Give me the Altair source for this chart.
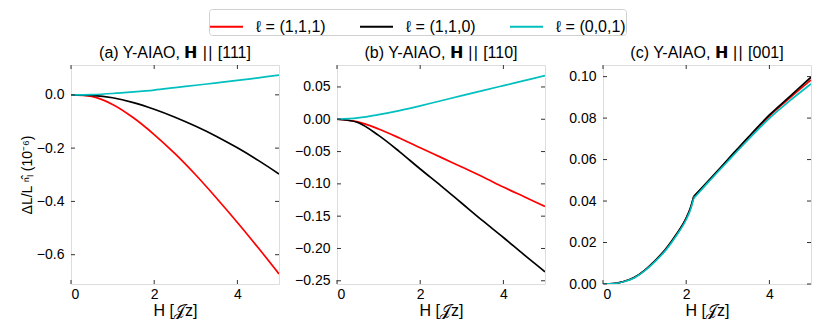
import altair as alt
import pandas as pd

# ---------------- data ----------------
series_labels = ["ℓ = (1,1,1)", "ℓ = (1,1,0)", "ℓ = (0,0,1)"]
series_colors = ["#ff0000", "#000000", "#00bfbf"]

H_ab = [0.0, 0.5, 1.0, 1.5, 2.0, 2.5, 3.0, 3.5, 4.0, 4.5, 5.0]

# (a) H || [111]
a_111 = [0.0, -0.006, -0.036, -0.086, -0.149, -0.221, -0.301, -0.388, -0.479, -0.574, -0.672]
a_110 = [0.0, -0.002, -0.011, -0.029, -0.054, -0.084, -0.118, -0.156, -0.199, -0.246, -0.297]
a_001 = [0.0, 0.001, 0.005, 0.011, 0.018, 0.027, 0.036, 0.045, 0.054, 0.064, 0.074]

# (b) H || [110]
b_111 = [0.0, -0.004, -0.015, -0.029, -0.044, -0.059, -0.074, -0.089, -0.105, -0.120, -0.135]
b_110 = [0.0, -0.005, -0.025, -0.050, -0.077, -0.103, -0.130, -0.157, -0.183, -0.210, -0.236]
b_001 = [0.0, 0.0022, 0.0072, 0.0135, 0.0208, 0.0287, 0.0366, 0.0444, 0.0521, 0.0598, 0.0675]

# (c) H || [001]: below the kink at H ~ 2.18, and above it
H_c_low = [0.0, 0.25, 0.5, 0.75, 1.0, 1.25, 1.5, 1.75, 2.0, 2.1, 2.18]
c_low_111 = [0.0, 0.0002, 0.0012, 0.0031, 0.0066, 0.0112, 0.0166, 0.0235, 0.0318, 0.0365, 0.0420]
c_low_110 = [0.0, 0.0002, 0.0012, 0.0031, 0.0066, 0.0112, 0.0166, 0.0235, 0.0318, 0.0365, 0.0421]
c_low_001 = [0.0, 0.0002, 0.0011, 0.0029, 0.0063, 0.0108, 0.0161, 0.0229, 0.0311, 0.0357, 0.0413]

H_c_high = [2.18, 2.5, 3.0, 3.5, 4.0, 4.5, 5.0]
c_high_111 = [0.0420, 0.0488, 0.0597, 0.0706, 0.0810, 0.0899, 0.0984]
c_high_110 = [0.0421, 0.0490, 0.0600, 0.0710, 0.0815, 0.0906, 0.0997]
c_high_001 = [0.0413, 0.0484, 0.0592, 0.0698, 0.0799, 0.0885, 0.0965]

x_ticks = [0, 2, 4]
y_ticks_a = [0.0, -0.2, -0.4, -0.6]
y_ticks_b = [0.05, 0.0, -0.05, -0.10, -0.15, -0.20, -0.25]
y_ticks_c = [0.0, 0.02, 0.04, 0.06, 0.08, 0.10]

titles = ["(a) Y-AIAO, 𝗛\u2004|\u200a|\u2004[111]",
          "(b) Y-AIAO, 𝗛\u2004|\u200a|\u2004[110]",
          "(c) Y-AIAO, 𝗛\u2004|\u200a|\u2004[001]"]
y_title = "ΔL/L ⁿ̂ₗ (10⁻⁶)"
x_title = "H [𝒥z]"

W, HT = 208, 219
FONT = "Liberation Sans"


def long_df(H, ys, part=0):
    rows = []
    for lab, vals in zip(series_labels, ys):
        for h, v in zip(H, vals):
            rows.append({"H": h, "v": v, "series": lab, "part": part})
    return pd.DataFrame(rows)


color = alt.Color(
    "series:N",
    scale=alt.Scale(domain=series_labels, range=series_colors),
    legend=alt.Legend(
        title=None, orient="none", direction="horizontal",
        legendX=138, legendY=-56,
        symbolType="stroke", symbolSize=1089, symbolStrokeWidth=2,
        labelFont=FONT, labelFontSize=16, labelColor="black", labelOffset=12,
        columnPadding=30, padding=0, strokeColor="#d0d0d0", cornerRadius=3,
        fillColor="white",
    ),
)


def panel(dfs, title, ydom, yticks, yfmt, show_ytitle, interps):
    xscale = alt.Scale(domain=[0, 5], nice=False, zero=False)
    yscale = alt.Scale(domain=ydom, nice=False, zero=False)
    yaxis = alt.Axis(
        values=yticks, format=yfmt, tickSize=0, domain=False, grid=False,
        labelPadding=7, labelFont=FONT, labelFontSize=14, labelColor="black",
        title=y_title if show_ytitle else "",
        titleFont=FONT, titleFontSize=14, titleFontWeight="normal", titleColor="black",
        titlePadding=2,
        minExtent=35 if show_ytitle else 43, maxExtent=35 if show_ytitle else 43,
    )
    xaxis = alt.Axis(
        values=x_ticks, format="d", tickSize=0, domain=False, grid=False,
        labelPadding=3, labelFont=FONT, labelFontSize=14, labelColor="black",
        title=x_title, titleFont=FONT, titleFontSize=16, titleFontWeight="normal",
        titleColor="black", titlePadding=1,
    )
    layers = []
    for df, interp in zip(dfs, interps):
        layers.append(
            alt.Chart(df).mark_line(strokeWidth=1.7, interpolate=interp, clip=True).encode(
                x=alt.X("H:Q", scale=xscale, axis=xaxis),
                y=alt.Y("v:Q", scale=yscale, axis=yaxis),
                color=color,
            )
        )
    xt = pd.DataFrame({"t": x_ticks})
    yt = pd.DataFrame({"t": yticks})
    tick_col = "#333333"
    xb = alt.Chart(xt).mark_rule(color=tick_col, strokeWidth=1).encode(
        x=alt.X("t:Q", scale=xscale, axis=xaxis), y=alt.value(HT), y2=alt.value(HT - 4))
    xtp = alt.Chart(xt).mark_rule(color=tick_col, strokeWidth=1).encode(
        x=alt.X("t:Q", scale=xscale, axis=xaxis), y=alt.value(0), y2=alt.value(4))
    yl = alt.Chart(yt).mark_rule(color=tick_col, strokeWidth=1).encode(
        y=alt.Y("t:Q", scale=yscale, axis=yaxis), x=alt.value(0), x2=alt.value(4))
    yr = alt.Chart(yt).mark_rule(color=tick_col, strokeWidth=1).encode(
        y=alt.Y("t:Q", scale=yscale, axis=yaxis), x=alt.value(W), x2=alt.value(W - 4))
    return alt.layer(*layers, xb, xtp, yl, yr).properties(
        width=W, height=HT,
        title=alt.TitleParams(title, font=FONT, fontSize=16, fontWeight="normal",
                              color="black", offset=4),
    )


pa = panel([long_df(H_ab, [a_111, a_110, a_001])], titles[0], [-0.71, 0.112],
           y_ticks_a, ".1f", True, ["catmull-rom"])
pb = panel([long_df(H_ab, [b_111, b_110, b_001])], titles[1], [-0.255, 0.084],
           y_ticks_b, ".2f", False, ["catmull-rom"])
pc = panel([long_df(H_c_low, [c_low_111, c_low_110, c_low_001], 0),
            long_df(H_c_high, [c_high_111, c_high_110, c_high_001], 1)],
           titles[2], [0.0, 0.1056], y_ticks_c, ".2f", False, ["monotone", "monotone"])

chart = alt.hconcat(pa, pb, pc, spacing=13).properties(
    padding={"left": 11, "top": 0, "right": 0, "bottom": 0}
).configure_view(stroke="#333333", strokeWidth=1).configure(font=FONT)

chart.save("out.html", embed_options={"renderer": "svg", "actions": False})
